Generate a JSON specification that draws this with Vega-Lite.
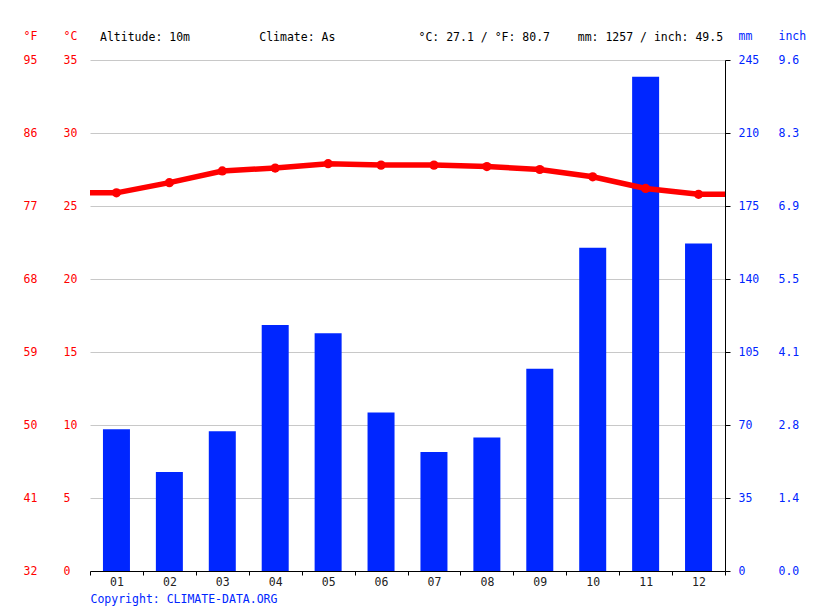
{
  "$schema": "https://vega.github.io/schema/vega-lite/v6.json",
  "width": 635,
  "height": 511,
  "autosize": {"type": "none"},
  "padding": {"left": 90, "top": 60, "right": 90, "bottom": 40},
  "background": "white",
  "config": {
    "view": {"stroke": null},
    "font": "DejaVu Sans Mono",
    "axis": {
      "labelFont": "DejaVu Sans Mono",
      "titleFont": "DejaVu Sans Mono",
      "labelFontSize": 11.5,
      "titleFontSize": 11.5,
      "titleFontWeight": "normal",
      "grid": false
    },
    "title": {"font": "DejaVu Sans Mono", "fontSize": 11.5, "fontWeight": "normal", "color": "#000000"}
  },
  "title": {
    "text": "Altitude: 10m\u00a0\u00a0\u00a0\u00a0\u00a0\u00a0\u00a0\u00a0\u00a0\u00a0Climate: As\u00a0\u00a0\u00a0\u00a0\u00a0\u00a0\u00a0\u00a0\u00a0\u00a0\u00a0\u00a0°C: 27.1 / °F: 80.7\u00a0\u00a0\u00a0\u00a0mm: 1257 / inch: 49.5",
    "anchor": "start",
    "frame": "group",
    "dx": 10,
    "offset": 18,
    "dy": 31
  },
  "datasets": {
    "climate": [
      {"month": 1, "temp": 25.9, "mm": 68},
      {"month": 2, "temp": 26.6, "mm": 47.5},
      {"month": 3, "temp": 27.4, "mm": 67},
      {"month": 4, "temp": 27.6, "mm": 118},
      {"month": 5, "temp": 27.9, "mm": 114},
      {"month": 6, "temp": 27.8, "mm": 76},
      {"month": 7, "temp": 27.8, "mm": 57},
      {"month": 8, "temp": 27.7, "mm": 64},
      {"month": 9, "temp": 27.5, "mm": 97},
      {"month": 10, "temp": 27.0, "mm": 155},
      {"month": 11, "temp": 26.2, "mm": 237},
      {"month": 12, "temp": 25.8, "mm": 157}
    ],
    "templine": [
      {"month": 0.5, "temp": 25.9},
      {"month": 1, "temp": 25.9},
      {"month": 2, "temp": 26.6},
      {"month": 3, "temp": 27.4},
      {"month": 4, "temp": 27.6},
      {"month": 5, "temp": 27.9},
      {"month": 6, "temp": 27.8},
      {"month": 7, "temp": 27.8},
      {"month": 8, "temp": 27.7},
      {"month": 9, "temp": 27.5},
      {"month": 10, "temp": 27.0},
      {"month": 11, "temp": 26.2},
      {"month": 12, "temp": 25.8},
      {"month": 12.5, "temp": 25.8}
    ]
  },
  "layer": [
    {
      "data": {"name": "climate"},
      "mark": {"type": "bar", "color": "#0026ff", "size": 27},
      "encoding": {
        "x": {
          "field": "month", "type": "quantitative",
          "scale": {"domain": [0.5, 12.5], "nice": false, "zero": false, "padding": 0},
          "axis": {
            "orient": "bottom",
            "values": [0.5, 1.5, 2.5, 3.5, 4.5, 5.5, 6.5, 7.5, 8.5, 9.5, 10.5, 11.5, 12.5],
            "labels": false,
            "ticks": true, "tickSize": 4, "tickColor": "#000000",
            "domain": true, "domainColor": "#000000",
            "zindex": 1,
            "title": "Copyright: CLIMATE-DATA.ORG",
            "titleColor": "#0026ff",
            "titleAlign": "left",
            "titleAnchor": "start",
            "titleBaseline": "middle",
            "titleX": 0,
            "titleY": 28
          }
        },
        "y": {
          "field": "mm", "type": "quantitative",
          "scale": {"domain": [0, 245], "nice": false, "zero": true},
          "axis": {
            "orient": "right",
            "values": [0, 35, 70, 105, 140, 175, 210, 245],
            "domain": true, "domainColor": "#000000",
            "ticks": true, "tickSize": 5, "tickColor": "#000000",
            "labelPadding": 8,
            "labelColor": "#0026ff",
            "zindex": 1,
            "title": "mm",
            "titleColor": "#0026ff",
            "titleAngle": 0,
            "titleAlign": "left",
            "titleBaseline": "middle",
            "titleX": 13,
            "titleY": -24
          }
        }
      }
    },
    {
      "data": {"name": "climate"},
      "mark": {"type": "bar", "opacity": 0, "size": 27},
      "encoding": {
        "x": {"field": "month", "type": "quantitative", "axis": null},
        "y": {
          "field": "mm", "type": "quantitative",
          "scale": {"domain": [0, 245], "nice": false, "zero": true},
          "axis": {
            "orient": "right",
            "values": [0, 35, 70, 105, 140, 175, 210, 245],
            "labelExpr": "format(datum.value / 25.4, '.1f')",
            "domain": false, "ticks": false, "tickSize": 0,
            "labelPadding": 53,
            "labelColor": "#0026ff",
            "title": "inch",
            "titleColor": "#0026ff",
            "titleAngle": 0,
            "titleAlign": "left",
            "titleBaseline": "middle",
            "titleX": 53,
            "titleY": -24
          }
        }
      }
    },
    {
      "data": {"name": "templine"},
      "mark": {"type": "line", "color": "#ff0000", "strokeWidth": 5.5},
      "encoding": {
        "x": {
          "field": "month", "type": "quantitative",
          "axis": {
            "orient": "bottom",
            "values": [1, 2, 3, 4, 5, 6, 7, 8, 9, 10, 11, 12],
            "labelExpr": "datum.value < 10 ? '0' + datum.value : '' + datum.value",
            "ticks": false, "tickSize": 0, "domain": false,
            "labelPadding": 5,
            "labelColor": "#222222",
            "title": null
          }
        },
        "y": {
          "field": "temp", "type": "quantitative",
          "scale": {"domain": [0, 35], "nice": false, "zero": true},
          "axis": {
            "orient": "left",
            "values": [0, 5, 10, 15, 20, 25, 30, 35],
            "grid": true, "gridColor": "#c8c8c8", "gridWidth": 1,
            "domain": false, "ticks": false, "tickSize": 0,
            "labelAlign": "left",
            "labelPadding": 27,
            "labelColor": "#ff0000",
            "title": "°C",
            "titleColor": "#ff0000",
            "titleAngle": 0,
            "titleAlign": "left",
            "titleBaseline": "middle",
            "titleX": -27,
            "titleY": -24
          }
        }
      }
    },
    {
      "data": {"name": "climate"},
      "mark": {"type": "circle", "color": "#ff0000", "size": 85, "opacity": 1},
      "encoding": {
        "x": {"field": "month", "type": "quantitative", "axis": null},
        "y": {
          "field": "temp", "type": "quantitative",
          "scale": {"domain": [0, 35], "nice": false, "zero": true},
          "axis": {
            "orient": "left",
            "values": [0, 5, 10, 15, 20, 25, 30, 35],
            "labelExpr": "format(datum.value * 9 / 5 + 32, 'd')",
            "domain": false, "ticks": false, "tickSize": 0,
            "labelAlign": "left",
            "labelPadding": 67,
            "labelColor": "#ff0000",
            "title": "°F",
            "titleColor": "#ff0000",
            "titleAngle": 0,
            "titleAlign": "left",
            "titleBaseline": "middle",
            "titleX": -67,
            "titleY": -24
          }
        }
      }
    }
  ],
  "resolve": {
    "scale": {"y": "independent"},
    "axis": {"x": "independent", "y": "independent"}
  }
}
